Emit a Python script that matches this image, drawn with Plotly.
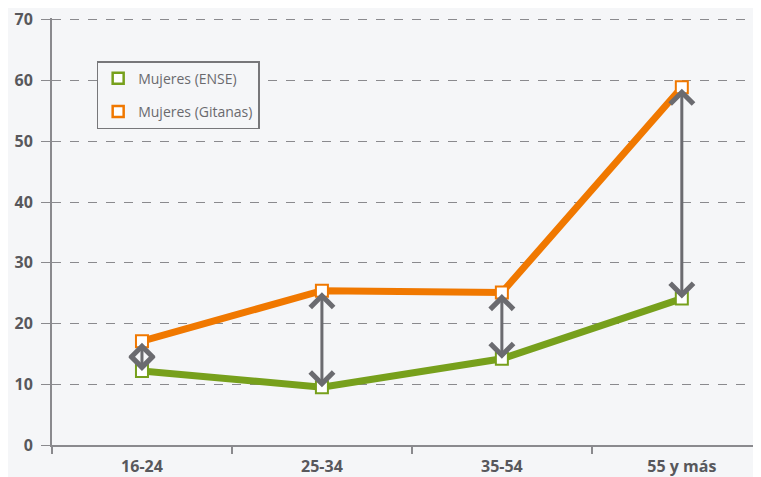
import plotly.graph_objects as go

# data
grupos_edad = ["16-24", "25-34", "35-54", "55 y más"]
mujeres_ense = [12.2, 9.5, 14.2, 24.1]
mujeres_gitanas = [17.1, 25.4, 25.1, 58.9]
y_ticks = [0, 10, 20, 30, 40, 50, 60, 70]

GREEN = "#77a01c"
ORANGE = "#f07800"
ARROW = "#6b6b70"
GRAY = "#8a8a8e"
BG = "#f5f6f8"

fig = go.Figure()

# series lines + open squares
fig.add_trace(go.Scatter(x=grupos_edad, y=mujeres_ense, mode="lines+markers",
                         line=dict(color=GREEN, width=7),
                         marker=dict(symbol="square", size=12, color="white",
                                     line=dict(color=GREEN, width=2)),
                         showlegend=False, cliponaxis=False))
fig.add_trace(go.Scatter(x=grupos_edad, y=mujeres_gitanas, mode="lines+markers",
                         line=dict(color=ORANGE, width=7),
                         marker=dict(symbol="square", size=12, color="white",
                                     line=dict(color=ORANGE, width=2)),
                         showlegend=False, cliponaxis=False))

# legend entries only (square symbol, no line)
fig.add_trace(go.Scatter(x=[None], y=[None], mode="markers", name="Mujeres (ENSE)",
                         legendgroup="a",
                         marker=dict(symbol="square", size=11, color="white",
                                     line=dict(color=GREEN, width=2.5))))
fig.add_trace(go.Scatter(x=[None], y=[None], mode="markers", name="Mujeres (Gitanas)",
                         legendgroup="b",
                         marker=dict(symbol="square", size=11, color="white",
                                     line=dict(color=ORANGE, width=2.5))))

# double headed arrows between the two series
for cat, lo, hi in zip(grupos_edad, mujeres_ense, mujeres_gitanas):
    fig.add_annotation(x=cat, y=lo, ax=cat, ay=hi, xref="x", yref="y",
                       axref="x", ayref="y", text="", showarrow=True,
                       arrowhead=4, startarrowhead=4, arrowside="end+start",
                       arrowsize=1.5, startarrowsize=1.5,
                       arrowwidth=3, arrowcolor=ARROW, standoff=0, startstandoff=0)

# page body adds an 8px offset, so the figure is 8px smaller than the window
fig.update_layout(
    width=753, height=469,
    margin=dict(l=44, r=0, t=8, b=30),
    paper_bgcolor=BG, plot_bgcolor=BG,
    font=dict(family="Open Sans", color="#58585c"),
    legend=dict(x=0.063, y=0.899, xanchor="left", yanchor="top",
                bgcolor=BG, bordercolor="#77777a", borderwidth=1.5,
                font=dict(size=14, color="#6a6a6e"),
                traceorder="grouped", tracegroupgap=12),
)
fig.update_xaxes(range=[-0.5, 3.44], showgrid=False, showline=True, linecolor=GRAY,
                 linewidth=2, tickson="boundaries", ticks="outside", ticklen=7,
                 tickcolor=GRAY, tickwidth=1.5, ticklabelstandoff=6,
                 tickfont=dict(size=16, color="#58585c", family="Open Sans", weight="bold"))
fig.update_yaxes(range=[0, 70.3], tickvals=y_ticks, showgrid=True, gridcolor=GRAY,
                 griddash="dash", gridwidth=1, showline=True, linecolor=GRAY,
                 linewidth=2, ticks="outside", ticklen=9, tickcolor=GRAY,
                 zeroline=False, ticklabelstandoff=5, ticklabeloverflow="allow",
                 tickfont=dict(size=16, color="#58585c", family="Open Sans", weight="bold"))

fig.write_html("out.html")
